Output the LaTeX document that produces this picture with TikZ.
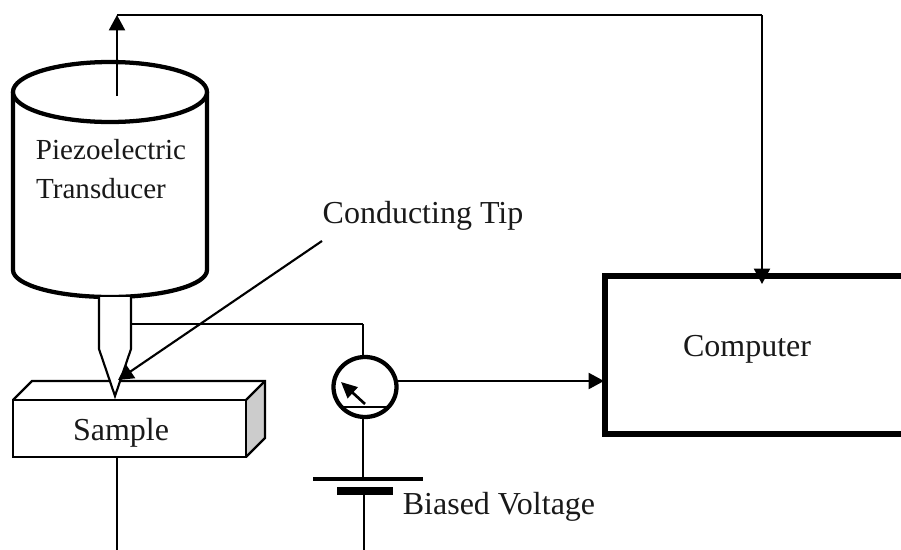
\documentclass[tikz,border=0pt]{standalone}
\usepackage{fontspec}
\setmainfont{Liberation Serif}
\usetikzlibrary{arrows.meta,shapes.geometric}
\tikzset{
  px/.style={x=0.75pt,y=-0.75pt},
  label32/.style={anchor=base,inner sep=0pt,text=black!90,font=\fontsize{24}{28}\selectfont},
  label29/.style={anchor=base,inner sep=0pt,text=black!90,font=\fontsize{21.8}{26}\selectfont},
  thin wire/.style={line width=1.1pt},
  med wire/.style={line width=1.6pt},
  heavy/.style={line width=3.2pt},
  big tip/.style={-{Triangle[length=11.5pt,width=12pt]}},
  small tip/.style={-{Triangle[length=12pt,width=11pt]}},
  pt/.style={inner sep=0pt,outer sep=0pt,minimum size=0pt}
}
\begin{document}
\begin{tikzpicture}[px]
\useasboundingbox (0,0) rectangle (901,550);
\clip (0,0) rectangle (901,550);
% coordinates
\coordinate (armbase) at (117,96);
\coordinate (corner1) at (117,15);
\coordinate (corner2) at (762,15);
\coordinate (compin) at (762,284);
\coordinate (tipwire) at (131,324);
\coordinate (wirecorner) at (363,324);
\coordinate (samplewire) at (117,457);
\coordinate (sampleend) at (117,550);
\coordinate (leader) at (322,241);
\coordinate (tippoint) at (118,380);
\coordinate (plateA) at (363,479);
\coordinate (plateB) at (364,491);
\coordinate (plateend) at (364,550);
\coordinate (needlefoot) at (365,404);
\coordinate (needlehead) at (341,382);
\coordinate (compleft) at (604,381);
\coordinate (meterout) at (398,381);
% sample block
\fill[black!20] (246,400) -- (265,381) -- (265,438) -- (246,457) -- cycle;
\draw[med wire,line join=miter] (13,400) -- (32,381) -- (265,381) -- (265,438) -- (246,457);
\draw[med wire] (246,400) -- (265,381);
\node[draw,fill=white,med wire,pt,minimum width=233*0.75pt,minimum height=57*0.75pt,anchor=north west] (sample) at (13,400) {};
\node[label32] (samplelabel) at (121,440) {Sample};
% cylinder
\filldraw[fill=white,heavy] (13,92) -- (13,270) arc[start angle=180,end angle=360,x radius=97,y radius=-27] -- (207,92);
\draw[heavy,fill=white] (110,92) ellipse[x radius=97,y radius=30];
\node[label29] (pz1) at (111,159) {Piezoelectric};
\node[label29] (pz2) at (101,198) {Transducer};
% conducting tip
\draw[med wire,fill=white,line join=miter] (99,297) -- (99,349) -- (115,396) -- (131,349) -- (131,297);
% feedback arrow
\draw[med wire,big tip] (armbase) -- (corner1);
\draw[med wire] (corner1) -- (corner2);
% wires
\draw[thin wire] (tipwire) -- (wirecorner);
\draw[thin wire] (samplewire) -- (sampleend);
% meter
\node[draw,ellipse,heavy,fill=white,pt,minimum width=63*0.75pt,minimum height=60*0.75pt] (meter) at (365,387) {};
\draw[thin wire] (wirecorner) -- (wirecorner |- meter.north);
\draw[thin wire] (343,407) -- (388,407);
\draw[line width=2pt,small tip] (needlefoot) -- (needlehead);
% battery
\node[fill=black,pt,minimum width=110*0.75pt,minimum height=4*0.75pt] (plate1) at (368,479) {};
\node[fill=black,pt,minimum width=56*0.75pt,minimum height=8*0.75pt] (plate2) at (365,491) {};
\draw[thin wire] (wirecorner |- meter.south) -- (plateA);
\draw[thin wire] (plateB) -- (plateend);
\node[label32] (biased) at (499,514) {Biased Voltage};
% computer
\node[draw,line width=4.2pt,pt,fill=white,minimum width=320*0.75pt,minimum height=158*0.75pt,anchor=north west] (computer) at (605,276) {};
\node[label32] (complabel) at (747,356) {Computer};
\draw[med wire,big tip] (corner2) -- (compin);
\draw[med wire,big tip] (meterout) -- (compleft);
% leader
\node[label32] (ctip) at (423,223) {Conducting Tip};
\draw[med wire,big tip] (leader) -- (tippoint);
\end{tikzpicture}
\end{document}
